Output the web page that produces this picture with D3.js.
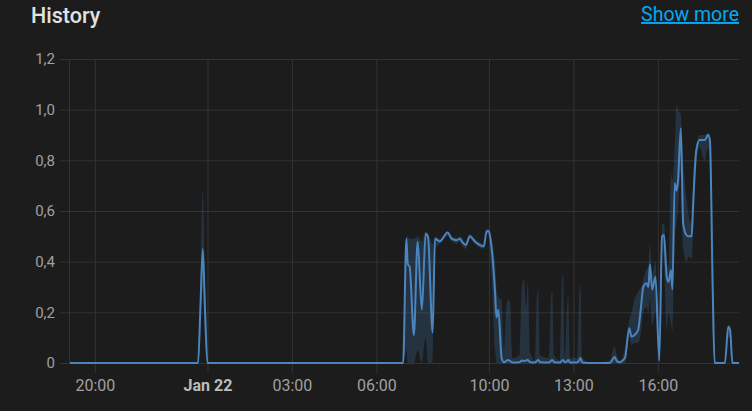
<!DOCTYPE html>
<html>
<head>
<meta charset="utf-8">
<script src="https://cdn.jsdelivr.net/npm/d3@7"></script>
<style>
  html, body { margin: 0; padding: 0; background: #1c1c1c; }
  svg { display: block; font-family: Roboto, "Noto Sans", sans-serif; }
</style>
</head>
<body>
<svg id="chart" width="752" height="411"></svg>
<script>
// ---- Data ----
const times = [
  "01-21T19:07","01-21T23:35","01-21T23:40","01-21T23:45","01-21T23:50","01-21T23:55","01-22T00:00","01-22T00:05",
  "01-22T06:57","01-22T07:04","01-22T07:07","01-22T07:11","01-22T07:20","01-22T07:28","01-22T07:37","01-22T07:45","01-22T07:50","01-22T08:00",
  "01-22T08:05","01-22T08:15","01-22T08:32","01-22T08:41","01-22T08:51","01-22T08:58","01-22T09:04","01-22T09:11","01-22T09:19","01-22T09:30",
  "01-22T09:41","01-22T09:49","01-22T09:55","01-22T10:00","01-22T10:04","01-22T10:13","01-22T10:16","01-22T10:20","01-22T10:27",
  "01-22T10:32","01-22T10:37","01-22T10:40","01-22T10:45","01-22T10:50","01-22T11:05","01-22T11:10","01-22T11:15","01-22T11:19","01-22T11:23","01-22T11:28",
  "01-22T11:38","01-22T11:42","01-22T11:45","01-22T11:49","01-22T12:08","01-22T12:12","01-22T12:15","01-22T12:19",
  "01-22T12:31","01-22T12:35","01-22T12:38","01-22T12:42","01-22T12:46","01-22T12:49","01-22T12:53",
  "01-22T13:08","01-22T13:12","01-22T13:15","01-22T13:19","01-22T13:40",
  "01-22T14:18","01-22T14:24","01-22T14:28","01-22T14:33","01-22T14:39","01-22T14:46","01-22T14:50",
  "01-22T14:59","01-22T15:04","01-22T15:10","01-22T15:18","01-22T15:24","01-22T15:29","01-22T15:36","01-22T15:40","01-22T15:43","01-22T15:48","01-22T15:55",
  "01-22T16:03","01-22T16:09","01-22T16:13","01-22T16:19","01-22T16:23","01-22T16:28","01-22T16:31","01-22T16:36","01-22T16:40","01-22T16:43","01-22T16:49","01-22T16:54",
  "01-22T17:01","01-22T17:06","01-22T17:12","01-22T17:15","01-22T17:22","01-22T17:29","01-22T17:40","01-22T17:47","01-22T17:51","01-22T17:57",
  "01-22T18:01","01-22T18:23","01-22T18:30","01-22T18:34","01-22T18:39","01-22T18:53"
];
const meanValues = [
  0,0,0,0.22,0.45,0.2,0,0,
  0,0.49,0.39,0.38,0.11,0.48,0.21,0.51,0.5,0.12,
  0.49,0.48,0.515,0.49,0.485,0.49,0.475,0.466,0.5,0.48,
  0.465,0.46,0.52,0.52,0.48,0.28,0.18,0.21,0.02,
  0.003,0.008,0.012,0.008,0.002,0.003,0.01,0.008,0.01,0.012,0.003,
  0.002,0.008,0.012,0.003,0.002,0.008,0.012,0.003,
  0.002,0.008,0.012,0.003,0.006,0.012,0.002,
  0.002,0.01,0.02,0.002,0,
  0,0.015,0.024,0.006,0.003,0.012,0.02,
  0.137,0.104,0.11,0.13,0.22,0.3,0.315,0.3,0.39,0.29,0.34,
  0.01,0.5,0.505,0.34,0.32,0.367,0.29,0.71,0.68,0.72,0.927,0.55,
  0.505,0.5,0.5,0.617,0.84,0.88,0.88,0.9,0.88,0.29,
  0,0,0.143,0.13,0,0
];
const minValues = [
  0,0,0,0.15,0.3,0.1,0,0,
  0,0.05,0,0,0,0.05,0,0.1,0,0,
  0.45,0.47,0.5,0.48,0.47,0.48,0.46,0.45,0.49,0.47,
  0.455,0.45,0.51,0.5,0.4,0.05,0,0,0,
  0,0,0,0,0,0,0,0,0,0,0,
  0,0,0,0,0,0,0,0,
  0,0,0,0,0,0,0,
  0,0,0,0,0,
  0,0,0,0,0,0,0,
  0.1,0.07,0.08,0.08,0.12,0.2,0.22,0.2,0.25,0.15,0.2,
  0,0.45,0.4,0.13,0.2,0.15,0.12,0.5,0.55,0.6,0.75,0.45,
  0.4,0.42,0.41,0.5,0.78,0.85,0.8,0.85,0.8,0.1,
  0,0,0.1,0.1,0,0
];
const maxValues = [
  0,0,0.01,0.32,0.68,0.3,0.01,0,
  0,0.5,0.5,0.49,0.49,0.5,0.48,0.52,0.51,0.47,
  0.5,0.49,0.52,0.5,0.495,0.5,0.49,0.475,0.51,0.49,
  0.475,0.47,0.53,0.53,0.5,0.4,0.3,0.26,0.25,
  0.05,0.22,0.25,0.24,0.02,0.03,0.3,0.33,0.22,0.32,0.04,
  0.01,0.26,0.29,0.03,0.02,0.25,0.285,0.03,
  0.01,0.3,0.355,0.02,0.2,0.27,0.02,
  0.02,0.25,0.31,0.02,0,
  0.01,0.05,0.065,0.03,0.01,0.03,0.06,
  0.17,0.2,0.25,0.28,0.3,0.33,0.37,0.38,0.47,0.35,0.4,
  0.05,0.55,0.55,0.4,0.38,0.75,0.72,0.85,1.02,1.0,0.98,0.8,
  0.65,0.58,0.55,0.7,0.86,0.9,0.9,0.91,0.9,0.5,
  0.01,0,0.15,0.15,0.01,0
];
const domainTimes = ["01-21T19:07", "01-22T18:53"];
const xTickTimes = ["01-21T20:00","01-22T00:00","01-22T03:00","01-22T06:00","01-22T10:00","01-22T13:00","01-22T16:00"];
const xTickLabels = ["20:00","Jan 22","03:00","06:00","10:00","13:00","16:00"];
const yTicks = [0, 0.2, 0.4, 0.6, 0.8, 1.0, 1.2];
const yTickLabels = ["0","0,2","0,4","0,6","0,8","1,0","1,2"];

// ---- Chart ----
(function () {
const parse = d3.timeParse("%Y-%m-%dT%H:%M");
const P = t => parse("2025-" + t);
const data = times.map((t, i) => ({ t: P(t), mean: meanValues[i], min: minValues[i], max: maxValues[i] }));

const svg = d3.select("#chart");
const pLeft = 70, pRight = 739, pTop = 59, pBottom = 363;

const x = d3.scaleTime().domain(domainTimes.map(P)).range([pLeft, pRight]);
const y = d3.scaleLinear().domain([0, 1.2]).range([pBottom, pTop]);

svg.append("rect").attr("width", 752).attr("height", 411).attr("fill", "#1c1c1c");

// Title and link
svg.append("text").attr("x", 31).attr("y", 23).attr("fill", "#e1e1e1")
  .attr("font-size", 21.5).attr("font-weight", 500).text("History");
svg.append("text").attr("x", 739).attr("y", 21).attr("text-anchor", "end")
  .attr("fill", "#03a9f4").attr("font-size", 19.5).attr("text-decoration", "underline").text("Show more");

const gridColor = "#333333";

// Horizontal grid via y axis
const yAxis = d3.axisLeft(y).tickValues(yTicks).tickFormat((d, i) => yTickLabels[i])
  .tickSize(0).tickPadding(15);
const gy = svg.append("g").attr("transform", `translate(${pLeft},0)`).call(yAxis);
gy.select(".domain").remove();
gy.selectAll(".tick line").attr("x1", -10).attr("x2", pRight - pLeft)
  .attr("stroke", gridColor).attr("stroke-width", 1);
gy.selectAll(".tick text").attr("fill", "#a0a0a0").attr("font-size", 15)
  .attr("font-family", "Roboto, sans-serif");

// Vertical grid via x axis
const xAxis = d3.axisBottom(x).tickValues(xTickTimes.map(P)).tickFormat((d, i) => xTickLabels[i])
  .tickSize(0).tickPadding(17);
const gx = svg.append("g").attr("transform", `translate(0,${pBottom})`).call(xAxis);
gx.select(".domain").remove();
gx.selectAll(".tick line").attr("y1", -(pBottom - pTop)).attr("y2", 10)
  .attr("stroke", gridColor).attr("stroke-width", 1);
gx.selectAll(".tick text").attr("font-size", 16)
  .attr("font-family", "Roboto, sans-serif")
  .attr("font-weight", (d, i) => xTickLabels[i] === "Jan 22" ? 700 : 400)
  .attr("fill", (d, i) => xTickLabels[i] === "Jan 22" ? "#bdbdbd" : "#a0a0a0");

// left axis line
svg.append("line").attr("x1", pLeft - 0.5).attr("x2", pLeft - 0.5).attr("y1", pTop).attr("y2", pBottom)
  .attr("stroke", gridColor);

// Clip
svg.append("clipPath").attr("id", "clip").append("rect")
  .attr("x", pLeft).attr("y", pTop - 10).attr("width", pRight - pLeft).attr("height", pBottom - pTop + 12);

const lineColor = "#4a85bf";
const area = d3.area().x(d => x(d.t)).y0(d => y(d.min)).y1(d => y(d.max)).curve(d3.curveMonotoneX);
svg.append("path").datum(data).attr("clip-path", "url(#clip)")
  .attr("d", area).attr("fill", lineColor).attr("fill-opacity", 0.22);

const line = d3.line().x(d => x(d.t)).y(d => y(d.mean)).curve(d3.curveMonotoneX);
svg.append("path").datum(data).attr("clip-path", "url(#clip)")
  .attr("d", line).attr("fill", "none").attr("stroke", lineColor).attr("stroke-width", 2)
  .attr("stroke-linejoin", "round");
})();
</script>
</body>
</html>
